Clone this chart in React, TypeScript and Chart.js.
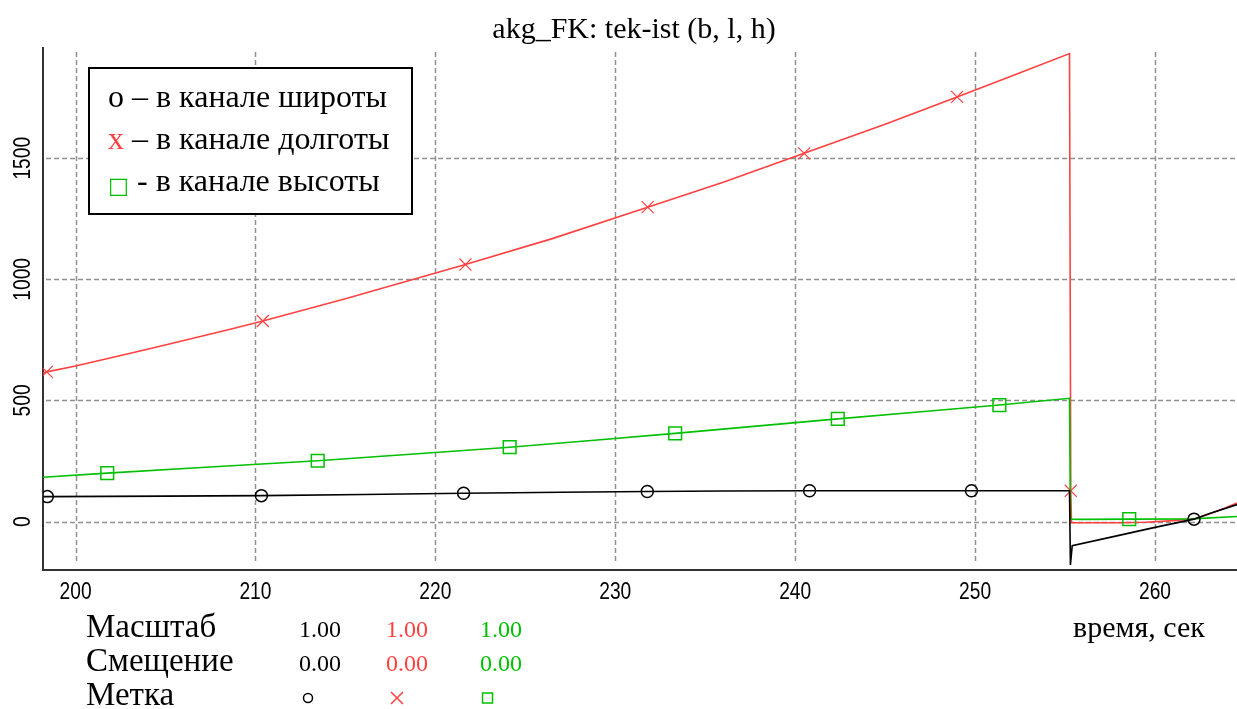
import React, { useEffect, useRef } from "react";
import { Chart, registerables } from "chart.js";

Chart.register(...registerables);

const TITLE = "akg_FK: tek-ist (b, l, h)";
const X_TICKS = [200, 210, 220, 230, 240, 250, 260];
const Y_TICKS = [0, 500, 1000, 1500];
const X_MIN = 198.19;
const X_MAX = 264.56;
const Y_MIN = -200;
const Y_MAX = 1955;

// широта (black)
const latTimes = [198.19, 198.43, 205, 210.33, 216, 221.57, 227, 231.78, 236, 240.8, 245, 249.8, 255.25, 255.3, 255.4, 258, 260, 262.17, 263, 264.56];
const latValues = [103, 103, 105, 107, 112, 117, 121, 124, 126, 127, 127, 127, 127, -179, -100, -57, -24, 10, 32, 70];
const latMarkers = [198.43, 210.33, 221.57, 231.78, 240.8, 249.8, 262.17];

// долгота (red)
const lonTimes = [198.19, 198.4, 200, 204, 208.6, 210.41, 215, 221.67, 226.5, 231.8, 236, 240.5, 245, 249.0, 252, 255.25, 255.32, 255.36, 258, 259.5, 260.8, 262.17, 263.05, 263.9, 264.56];
const lonValues = [614, 618, 642, 711, 794, 828, 920, 1061, 1168, 1298, 1401, 1520, 1640, 1753, 1838, 1932, 127, -5, -5, -3, 3, 11, 32, 56, 77];
const lonMarkers = [198.4, 210.41, 221.67, 231.8, 240.5, 249.0, 255.32];

// высота (green)
const altTimes = [198.19, 201.76, 207, 213.46, 219, 224.13, 229, 233.33, 238, 242.37, 247, 251.35, 255.25, 255.3, 256, 258.57, 262, 264.56];
const altValues = [183, 200, 223, 251, 280, 307, 337, 364, 395, 424, 453, 481, 509, 10, 9, 10, 11, 21];
const altMarkers = [201.76, 213.46, 224.13, 233.33, 242.37, 251.35, 258.57];

const LEGEND_LINES = ["o – в канале широты", "x", " – в канале долготы", "□", "- в канале высоты"];
const ROW_LABELS = ["Масштаб", "Смещение", "Метка"];
const SCALE_VALUES = ["1.00", "1.00", "1.00"];
const OFFSET_VALUES = ["0.00", "0.00", "0.00"];
const X_AXIS_LABEL = "время, сек";

const BLACK = "#000000";
const RED = "#ff4040";
const GREEN = "#00c000";
const SERIES_COLORS = [BLACK, RED, GREEN];

const TICK_FONT = '24px "Liberation Sans"';
const TICK_SCALE = 0.8;

function toPoints(t: number[], v: number[]) {
  return t.map((x, i) => ({ x, y: v[i] }));
}
function radii(t: number[], marks: number[], r: number) {
  return t.map((x) => (marks.includes(x) ? r : 0));
}

function narrowText(ctx: CanvasRenderingContext2D, s: string, x: number, y: number, rot: number) {
  ctx.save();
  ctx.translate(x, y);
  ctx.rotate(rot);
  ctx.scale(TICK_SCALE, 1);
  ctx.font = TICK_FONT;
  ctx.textAlign = "center";
  ctx.textBaseline = "middle";
  ctx.fillText(s, 0, 0);
  ctx.restore();
}

const decorPlugin = {
  id: "decor",
  beforeDatasetsDraw(chart: any) {
    const { ctx, chartArea, scales } = chart;
    const xs = scales.x;
    const ys = scales.y;
    ctx.save();
    ctx.strokeStyle = "#909090";
    ctx.lineWidth = 1.5;
    ctx.setLineDash([5, 3]);
    for (const v of X_TICKS) {
      const px = Math.round(xs.getPixelForValue(v)) + 0.5;
      ctx.beginPath();
      ctx.moveTo(px, chartArea.top + 4);
      ctx.lineTo(px, chartArea.bottom - 7);
      ctx.stroke();
    }
    for (const v of Y_TICKS) {
      const py = Math.round(ys.getPixelForValue(v)) + 0.5;
      ctx.beginPath();
      ctx.moveTo(chartArea.left + 3, py);
      ctx.lineTo(chartArea.right, py);
      ctx.stroke();
    }
    ctx.restore();
  },
  afterDraw(chart: any) {
    const { ctx, scales } = chart;
    const xs = scales.x;
    const ys = scales.y;
    ctx.save();
    // title
    ctx.fillStyle = "#000";
    ctx.font = '30px "Liberation Serif"';
    ctx.textAlign = "center";
    ctx.textBaseline = "middle";
    ctx.fillText(TITLE, 634, 30);

    // tick labels
    for (const v of Y_TICKS) {
      narrowText(ctx, String(v), 23, ys.getPixelForValue(v), -Math.PI / 2);
    }
    for (const v of X_TICKS) {
      narrowText(ctx, String(v), xs.getPixelForValue(v), 592, 0);
    }

    // legend box
    ctx.fillStyle = "#fff";
    ctx.fillRect(88, 67, 325, 148);
    ctx.strokeStyle = "#000";
    ctx.lineWidth = 2;
    ctx.strokeRect(89, 68, 323, 146);
    ctx.textAlign = "left";
    ctx.textBaseline = "alphabetic";
    ctx.font = '32px "Liberation Serif"';
    ctx.fillStyle = BLACK;
    ctx.fillText(LEGEND_LINES[0], 108, 107);
    ctx.fillStyle = RED;
    ctx.fillText(LEGEND_LINES[1], 108, 149);
    const wx = ctx.measureText(LEGEND_LINES[1]).width;
    ctx.fillStyle = BLACK;
    ctx.fillText(LEGEND_LINES[2], 108 + wx, 149);
    ctx.fillStyle = GREEN;
    ctx.font = '22px "DejaVu Sans"';
    ctx.fillText(LEGEND_LINES[3], 108, 193);
    ctx.fillStyle = BLACK;
    ctx.font = '32px "Liberation Serif"';
    ctx.fillText(LEGEND_LINES[4], 137, 191);

    // bottom table
    const rowY = [637, 671, 705];
    ctx.font = '33px "Liberation Serif"';
    ctx.fillStyle = BLACK;
    ROW_LABELS.forEach((s, i) => ctx.fillText(s, 86, rowY[i]));
    ctx.font = '30px "Liberation Serif"';
    ctx.fillText(X_AXIS_LABEL, 1073, rowY[0]);
    const colX = [299, 386, 480];
    ctx.font = '24px "Liberation Serif"';
    SCALE_VALUES.forEach((s, i) => {
      ctx.fillStyle = SERIES_COLORS[i];
      ctx.fillText(s, colX[i], rowY[0]);
    });
    OFFSET_VALUES.forEach((s, i) => {
      ctx.fillStyle = SERIES_COLORS[i];
      ctx.fillText(s, colX[i], rowY[1]);
    });
    // marker symbols
    const my = 698;
    ctx.lineWidth = 1.5;
    ctx.strokeStyle = BLACK;
    ctx.beginPath();
    ctx.arc(308, my, 4.5, 0, Math.PI * 2);
    ctx.stroke();
    ctx.strokeStyle = RED;
    ctx.beginPath();
    ctx.moveTo(391, my - 6);
    ctx.lineTo(403, my + 6);
    ctx.moveTo(403, my - 6);
    ctx.lineTo(391, my + 6);
    ctx.stroke();
    ctx.strokeStyle = GREEN;
    ctx.strokeRect(482.5, my - 5, 10, 10);
    ctx.restore();
  },
};

export default function App() {
  const ref = useRef<HTMLCanvasElement>(null);
  useEffect(() => {
    const canvas = ref.current!;
    const chart = new Chart(canvas, {
      type: "line",
      data: {
        datasets: [
          {
            label: "широта",
            data: toPoints(latTimes, latValues),
            borderColor: BLACK,
            borderWidth: 1.6,
            pointStyle: "circle",
            pointRadius: radii(latTimes, latMarkers, 6),
            pointBorderColor: BLACK,
            pointBackgroundColor: "rgba(0,0,0,0)",
            pointBorderWidth: 1.5,
            pointHoverRadius: 0,
            tension: 0,
            fill: false,
          },
          {
            label: "высота",
            data: toPoints(altTimes, altValues),
            borderColor: GREEN,
            borderWidth: 1.6,
            pointStyle: "rect",
            pointRadius: radii(altTimes, altMarkers, 9),
            pointBorderColor: GREEN,
            pointBackgroundColor: "rgba(0,0,0,0)",
            pointBorderWidth: 1.5,
            pointHoverRadius: 0,
            tension: 0,
            fill: false,
          },
          {
            label: "долгота",
            data: toPoints(lonTimes, lonValues),
            borderColor: RED,
            borderWidth: 1.6,
            pointStyle: "crossRot",
            pointRadius: radii(lonTimes, lonMarkers, 8.5),
            pointBorderColor: RED,
            pointBackgroundColor: "rgba(0,0,0,0)",
            pointBorderWidth: 1.2,
            pointHoverRadius: 0,
            tension: 0,
            fill: false,
          },
        ],
      },
      options: {
        responsive: false,
        devicePixelRatio: 1,
        animation: false,
        events: [],
        layout: { padding: { top: 48, left: 0, right: 0, bottom: 0 } },
        plugins: {
          legend: { display: false },
          title: { display: false },
          tooltip: { enabled: false },
        },
        scales: {
          x: {
            type: "linear",
            min: X_MIN,
            max: X_MAX,
            afterBuildTicks: (s: any) => {
              s.ticks = X_TICKS.map((v) => ({ value: v }));
            },
            afterFit: (s: any) => {
              s.height = 139;
            },
            grid: { display: false, drawTicks: false },
            border: { display: true, color: "#333", width: 2 },
            ticks: { display: false },
          },
          y: {
            type: "linear",
            min: Y_MIN,
            max: Y_MAX,
            afterBuildTicks: (s: any) => {
              s.ticks = Y_TICKS.map((v) => ({ value: v }));
            },
            afterFit: (s: any) => {
              s.width = 43;
            },
            grid: { display: false, drawTicks: false },
            border: { display: true, color: "#333", width: 2 },
            ticks: { display: false },
          },
        },
      },
      plugins: [decorPlugin],
    });
    return () => chart.destroy();
  }, []);
  return (
    <div style={{ position: "fixed", left: 0, top: 0, width: 1237, height: 709, background: "#fff" }}>
      <canvas ref={ref} width={1237} height={709} style={{ display: "block", width: 1237, height: 709 }} />
    </div>
  );
}
